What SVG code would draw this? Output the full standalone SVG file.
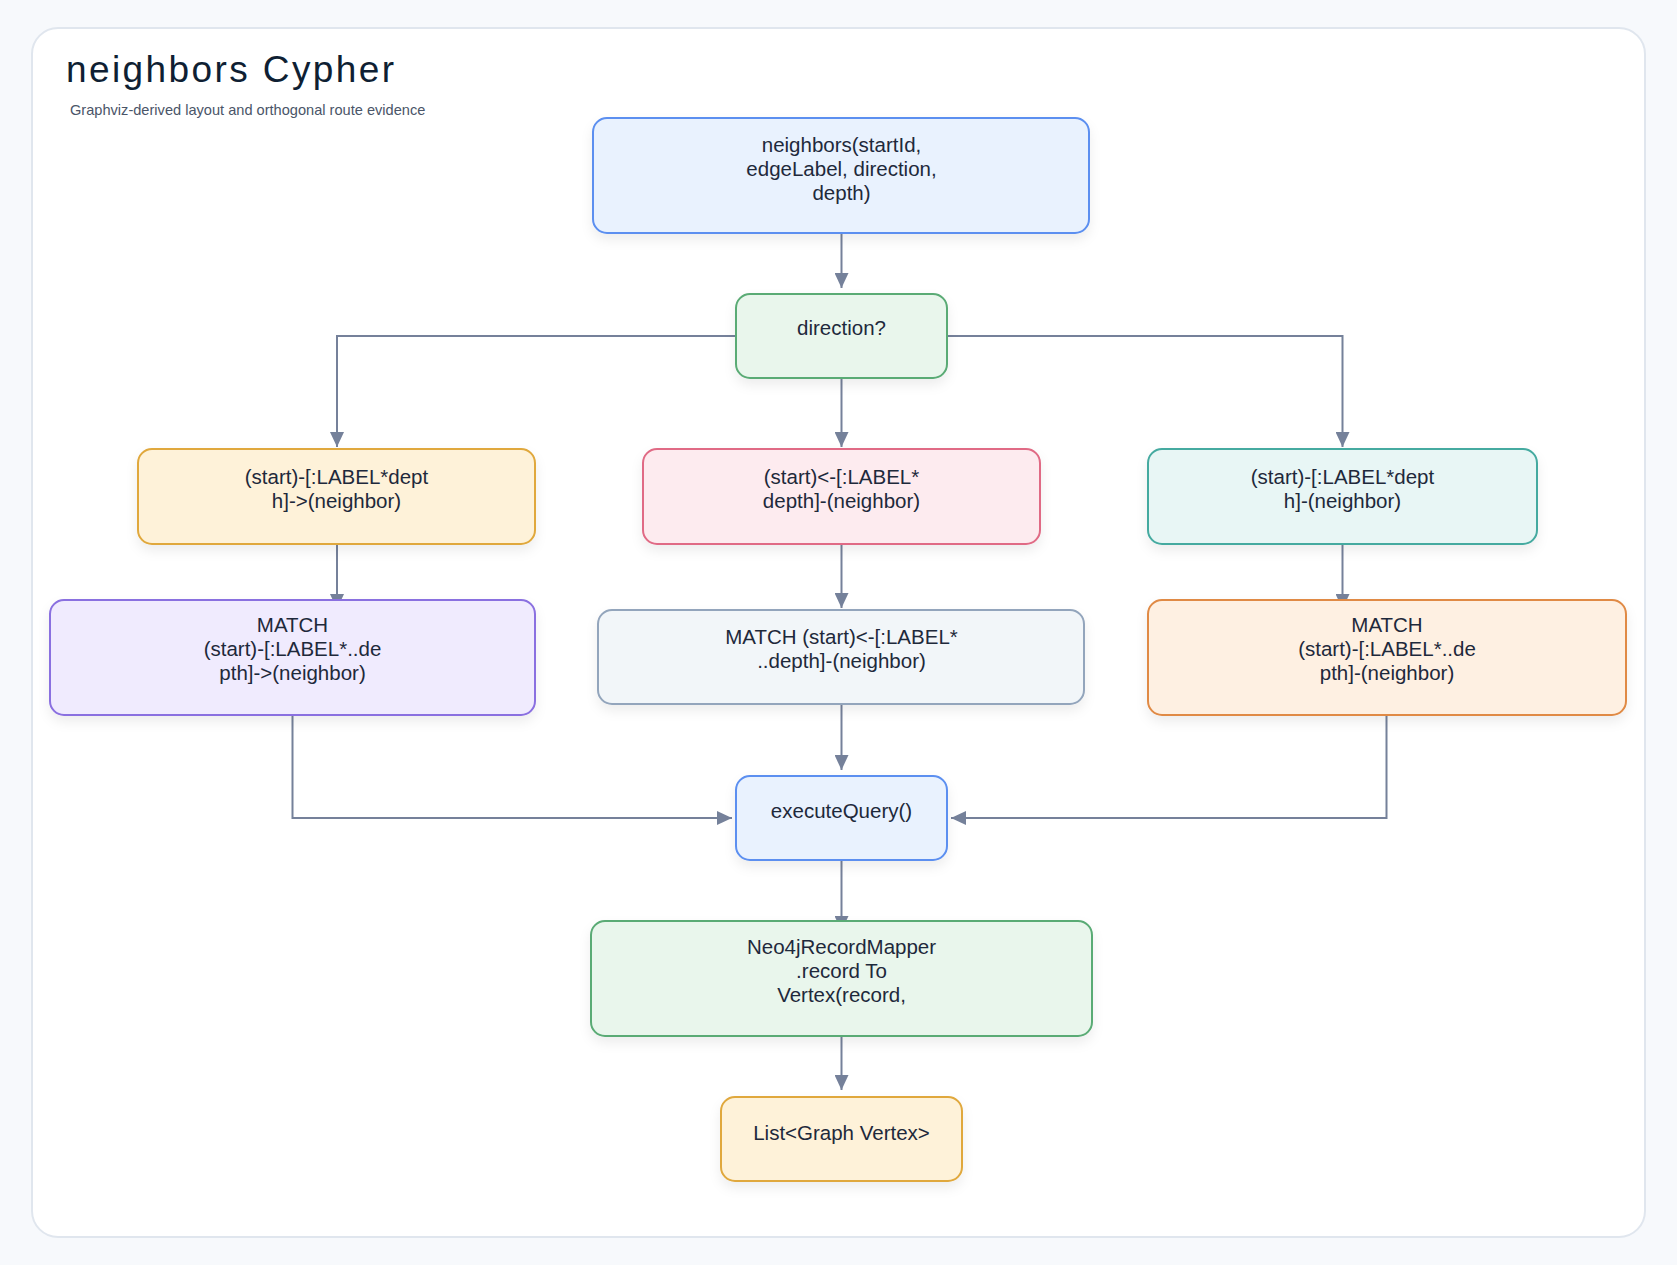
<svg xmlns="http://www.w3.org/2000/svg" width="1677" height="1265" viewBox="0 0 1677 1265">
  <defs>
    <style>
      .node rect { stroke-width: 2; filter: url(#shadow); }
      .node text { font-family: "Liberation Sans", Arial, sans-serif; font-size: 20.5px; fill: #1e293b; text-anchor: middle; }
      .blue rect { fill: #e9f2fe; stroke: #5b8ff0; }
      .green rect { fill: #e9f6ec; stroke: #5aab75; }
      .yellow rect { fill: #fef2d9; stroke: #e0a83c; }
      .purple rect { fill: #f0ebfe; stroke: #8a6fe0; }
      .pink rect { fill: #fdebef; stroke: #e06b85; }
      .slate rect { fill: #f2f6f9; stroke: #93a5bc; }
      .teal rect { fill: #e8f6f5; stroke: #45aaa0; }
      .orange rect { fill: #fef0e2; stroke: #e08a45; }
      .edge { fill: none; stroke: #75819a; stroke-width: 2; marker-end: url(#arrow); }
      .title { font-family: "Liberation Sans", Arial, sans-serif; font-size: 37px; fill: #0f1f33; letter-spacing: 2.4px; }
      .subtitle { font-family: "Liberation Sans", Arial, sans-serif; font-size: 14.6px; fill: #4a5568; }
    </style>
    <filter id="shadow" x="-10%" y="-10%" width="120%" height="130%">
      <feDropShadow dx="0" dy="6" stdDeviation="6" flood-color="#0f172a" flood-opacity="0.07"/>
    </filter>
    <marker id="arrow" markerUnits="userSpaceOnUse" viewBox="0 0 15 14" refX="15" refY="7" markerWidth="15" markerHeight="14" orient="auto">
      <path d="M0,0 L15,7 L0,14 z" fill="#75819a"/>
    </marker>
  </defs>

  <rect x="0" y="0" width="1677" height="1265" fill="#f7f9fc"/>
  <rect x="32" y="28" width="1613" height="1209" rx="26" fill="#ffffff" stroke="#e0e6ee" stroke-width="2"/>

  <text class="title" x="66" y="82">neighbors Cypher</text>
  <text class="subtitle" x="70" y="115">Graphviz-derived layout and orthogonal route evidence</text>

  <g id="connectors">
    <path class="edge" d="M841.5,233 V288"/>
    <path class="edge" d="M736,336 H337 V447"/>
    <path class="edge" d="M841.5,378 V447"/>
    <path class="edge" d="M947,336 H1342.5 V447"/>
    <path class="edge" d="M337,544 V609"/>
    <path class="edge" d="M841.5,544 V608"/>
    <path class="edge" d="M1342.5,544 V609"/>
    <path class="edge" d="M292.5,715 V818 H732"/>
    <path class="edge" d="M841.5,704 V770"/>
    <path class="edge" d="M1386.5,715 V818 H951"/>
    <path class="edge" d="M841.5,860 V931"/>
    <path class="edge" d="M841.5,1036 V1090"/>
  </g>

  <g id="node-neighbors" class="node blue">
    <rect x="593" y="118" width="496" height="115" rx="14"/>
    <text x="841.5" y="152">neighbors(startId,</text>
    <text x="841.5" y="176">edgeLabel, direction,</text>
    <text x="841.5" y="200">depth)</text>
  </g>

  <g id="node-direction" class="node green">
    <rect x="736" y="294" width="211" height="84" rx="14"/>
    <text x="841.5" y="335">direction?</text>
  </g>

  <g id="node-out" class="node yellow">
    <rect x="138" y="449" width="397" height="95" rx="14"/>
    <text x="336.5" y="484">(start)-[:LABEL*dept</text>
    <text x="336.5" y="508">h]-&gt;(neighbor)</text>
  </g>

  <g id="node-in" class="node pink">
    <rect x="643" y="449" width="397" height="95" rx="14"/>
    <text x="841.5" y="484">(start)&lt;-[:LABEL*</text>
    <text x="841.5" y="508">depth]-(neighbor)</text>
  </g>

  <g id="node-both" class="node teal">
    <rect x="1148" y="449" width="389" height="95" rx="14"/>
    <text x="1342.5" y="484">(start)-[:LABEL*dept</text>
    <text x="1342.5" y="508">h]-(neighbor)</text>
  </g>

  <g id="node-match-out" class="node purple">
    <rect x="50" y="600" width="485" height="115" rx="14"/>
    <text x="292.5" y="632">MATCH</text>
    <text x="292.5" y="656">(start)-[:LABEL*..de</text>
    <text x="292.5" y="680">pth]-&gt;(neighbor)</text>
  </g>

  <g id="node-match-in" class="node slate">
    <rect x="598" y="610" width="486" height="94" rx="14"/>
    <text x="841.5" y="644">MATCH (start)&lt;-[:LABEL*</text>
    <text x="841.5" y="668">..depth]-(neighbor)</text>
  </g>

  <g id="node-match-both" class="node orange">
    <rect x="1148" y="600" width="478" height="115" rx="14"/>
    <text x="1387" y="632">MATCH</text>
    <text x="1387" y="656">(start)-[:LABEL*..de</text>
    <text x="1387" y="680">pth]-(neighbor)</text>
  </g>

  <g id="node-execute" class="node blue">
    <rect x="736" y="776" width="211" height="84" rx="14"/>
    <text x="841.5" y="818">executeQuery()</text>
  </g>

  <g id="node-mapper" class="node green">
    <rect x="591" y="921" width="501" height="115" rx="14"/>
    <text x="841.5" y="954">Neo4jRecordMapper</text>
    <text x="841.5" y="978">.record To</text>
    <text x="841.5" y="1002">Vertex(record,</text>
  </g>

  <g id="node-list" class="node yellow">
    <rect x="721" y="1097" width="241" height="84" rx="14"/>
    <text x="841.5" y="1140">List&lt;Graph Vertex&gt;</text>
  </g>
</svg>
